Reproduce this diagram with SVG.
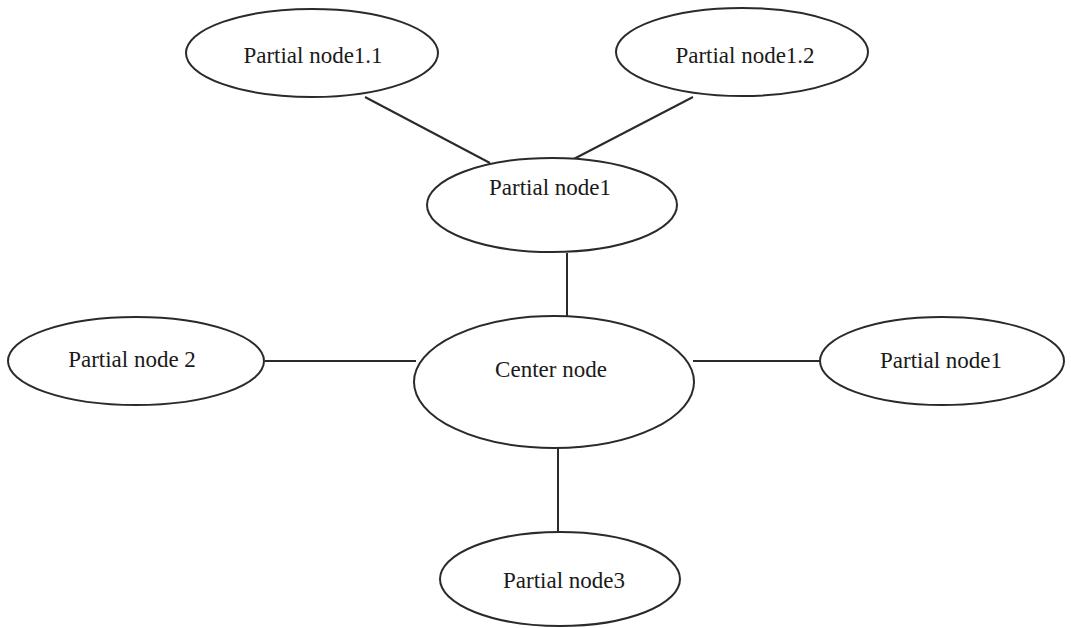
<svg xmlns="http://www.w3.org/2000/svg" width="1071" height="628" viewBox="0 0 1071 628">
<style>
.n ellipse{fill:#fff;stroke:#2a2a2a;stroke-width:2}
.n text{font-family:"Liberation Serif","Times New Roman",serif;font-size:23px;fill:#1a1a1a;text-anchor:middle}
.c line{stroke:#2a2a2a;stroke-width:2}
</style>
<rect width="1071" height="628" fill="#fff"/>
<g class="c" id="connectors">
<line x1="365" y1="97" x2="490" y2="163"/>
<line x1="693" y1="97" x2="568" y2="162"/>
<line x1="567" y1="253" x2="567" y2="317"/>
<line x1="265" y1="361" x2="416" y2="361"/>
<line x1="693" y1="361" x2="821" y2="361"/>
<line x1="558" y1="448" x2="558" y2="532"/>
</g>
<g class="n" id="node-1-1"><ellipse cx="312" cy="53" rx="126" ry="44"/><text x="313" y="63">Partial node1.1</text></g>
<g class="n" id="node-1-2"><ellipse cx="742" cy="52" rx="126" ry="44"/><text x="745" y="63">Partial node1.2</text></g>
<g class="n" id="node-1"><ellipse cx="552" cy="205" rx="125" ry="47"/><text x="550" y="195">Partial node1</text></g>
<g class="n" id="node-2"><ellipse cx="136" cy="361" rx="128" ry="44"/><text x="132" y="367">Partial node 2</text></g>
<g class="n" id="center"><ellipse cx="554" cy="382" rx="140" ry="66"/><text x="551" y="377">Center node</text></g>
<g class="n" id="node-1-right"><ellipse cx="942" cy="361" rx="122" ry="44"/><text x="941" y="368">Partial node1</text></g>
<g class="n" id="node-3"><ellipse cx="560" cy="579" rx="120" ry="47"/><text x="564" y="588">Partial node3</text></g>
</svg>
